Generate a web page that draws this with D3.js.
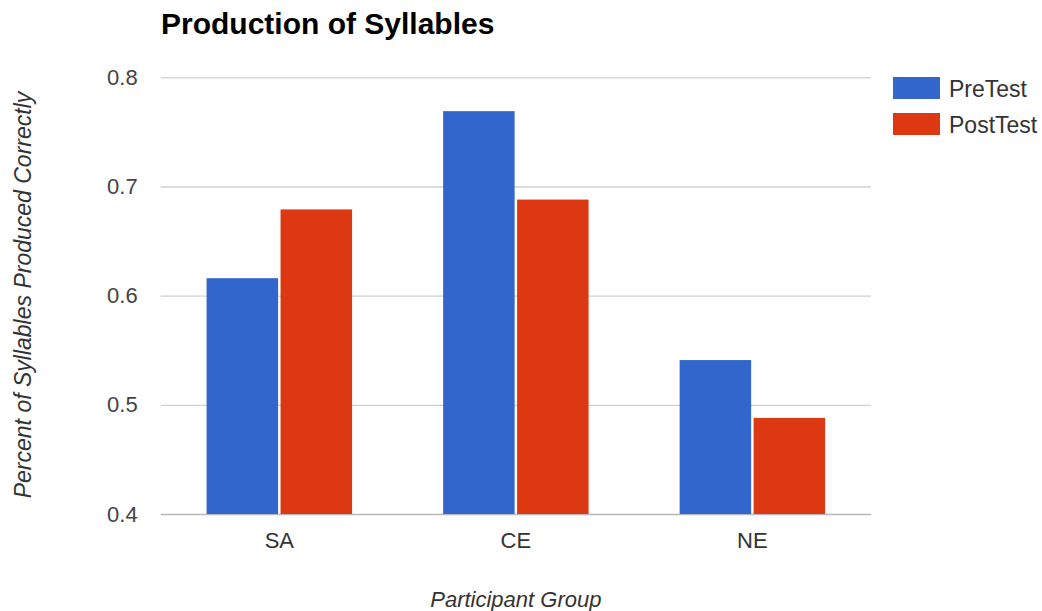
<!DOCTYPE html>
<html>
<head>
<meta charset="utf-8">
<script src="https://cdn.jsdelivr.net/npm/d3@7"></script>
<style>
  html, body { margin: 0; padding: 0; background: #fff; }
  svg { display: block; font-family: "Liberation Sans", Arial, sans-serif; }
</style>
</head>
<body>
<svg id="chart" width="1042" height="611"></svg>
<script>
// Chart data
const categories = ["SA", "CE", "NE"];
const seriesNames = ["PreTest", "PostTest"];
const preTest = [0.616, 0.769, 0.541];
const postTest = [0.679, 0.688, 0.488];
const yTicks = [0.4, 0.5, 0.6, 0.7, 0.8];
const colors = ["#3366cc", "#dc3912"];

const rows = categories.map((c, i) => ({ category: c, values: [preTest[i], postTest[i]] }));

const svg = d3.select("#chart");
const plot = { left: 160.7, right: 871, top: 77.3, bottom: 514 };

const x0 = d3.scaleBand()
  .domain(categories)
  .range([plot.left, plot.right])
  .paddingInner(0.385)
  .paddingOuter(0.194);

const x1 = d3.scaleBand()
  .domain(seriesNames)
  .range([0, x0.bandwidth()])
  .paddingInner(0.033);

const y = d3.scaleLinear()
  .domain([0.4, 0.8])
  .range([plot.bottom, plot.top]);

// Horizontal gridlines with value labels
const yAxis = d3.axisLeft(y)
  .tickValues(yTicks)
  .tickFormat(d3.format(".1f"))
  .tickSize(-(plot.right - plot.left))
  .tickPadding(23);

const gy = svg.append("g")
  .attr("transform", `translate(${plot.left},0)`)
  .call(yAxis);
gy.select(".domain").remove();
gy.selectAll(".tick line")
  .attr("stroke", d => d === 0.4 ? "#b8b8b8" : "#d0d0d0")
  .attr("stroke-width", 1.3);
gy.selectAll(".tick text")
  .attr("fill", "#444")
  .style("font-size", "22px")
  .style("font-family", "'Liberation Sans', Arial, sans-serif");

// Bars
const groups = svg.append("g").selectAll("g")
  .data(rows)
  .join("g")
  .attr("transform", d => `translate(${x0(d.category)},0)`);

groups.selectAll("rect")
  .data(d => d.values.map((v, i) => ({ key: seriesNames[i], value: v, idx: i })))
  .join("rect")
  .attr("x", d => x1(d.key))
  .attr("y", d => y(d.value))
  .attr("width", x1.bandwidth())
  .attr("height", d => y(0.4) - y(d.value))
  .attr("fill", d => colors[d.idx]);

// Category labels
const xAxis = d3.axisBottom(x0).tickSize(0).tickPadding(18);
const gx = svg.append("g")
  .attr("transform", `translate(0,${plot.bottom})`)
  .call(xAxis);
gx.select(".domain").remove();
gx.selectAll(".tick text")
  .attr("fill", "#333")
  .style("font-size", "22px")
  .style("font-family", "'Liberation Sans', Arial, sans-serif");

// Title
svg.append("text")
  .attr("x", 161)
  .attr("y", 34)
  .attr("fill", "#000")
  .style("font-size", "30px")
  .style("font-weight", "bold")
  .text("Production of Syllables");

// Axis titles
svg.append("text")
  .attr("x", (plot.left + plot.right) / 2)
  .attr("y", 607)
  .attr("text-anchor", "middle")
  .attr("fill", "#333")
  .style("font-size", "22px")
  .style("font-style", "italic")
  .text("Participant Group");

svg.append("text")
  .attr("transform", "translate(31,295) rotate(-90)")
  .attr("text-anchor", "middle")
  .attr("fill", "#333")
  .style("font-size", "23px")
  .style("font-style", "italic")
  .text("Percent of Syllables Produced Correctly");

// Legend
const legend = svg.append("g").selectAll("g")
  .data(seriesNames)
  .join("g")
  .attr("transform", (d, i) => `translate(893,${77 + i * 36})`);
legend.append("rect")
  .attr("width", 47)
  .attr("height", 22)
  .attr("fill", (d, i) => colors[i]);
legend.append("text")
  .attr("x", 56)
  .attr("y", 19.5)
  .attr("fill", "#333")
  .style("font-size", "23px")
  .text(d => d);
</script>
</body>
</html>
